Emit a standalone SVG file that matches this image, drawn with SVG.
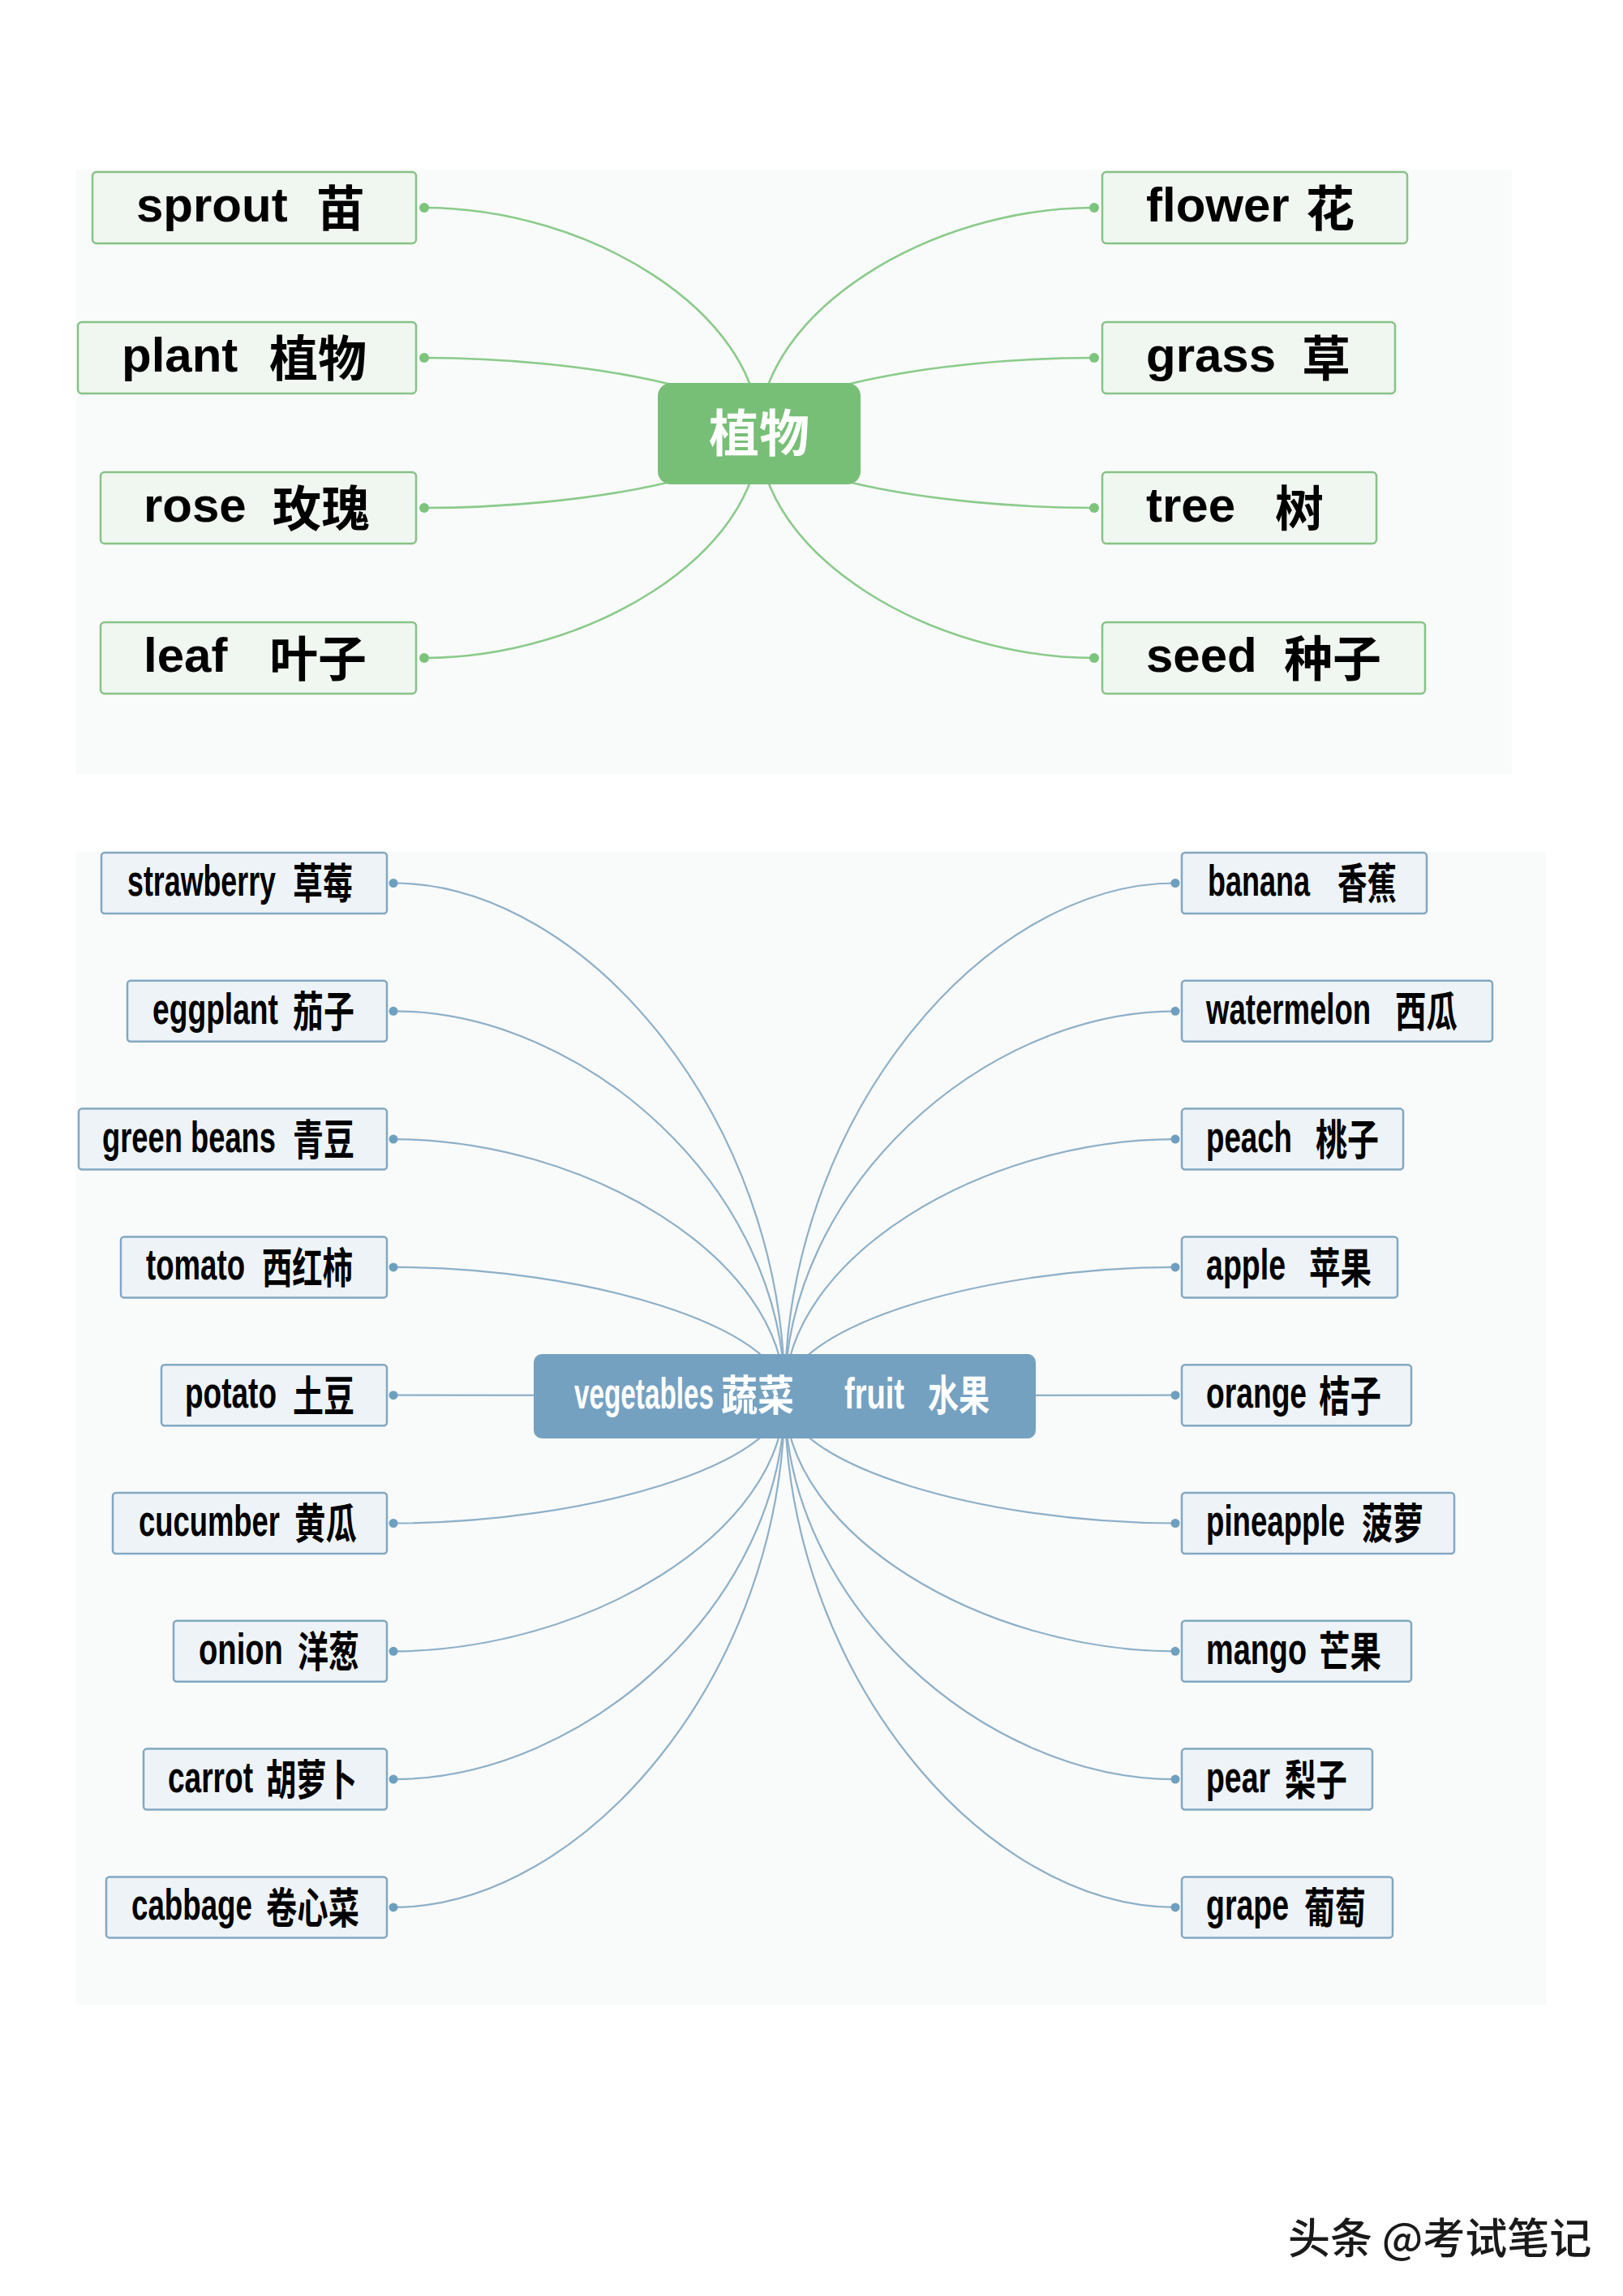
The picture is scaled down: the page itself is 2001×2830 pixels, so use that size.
<svg xmlns="http://www.w3.org/2000/svg" width="2001" height="2830" viewBox="0 0 2001 2830">
<style>
.panel{fill:#f9fafa}
.gbox{fill:#f0f6f0;stroke:#86c386;stroke-width:2.5}
.bbox{fill:#eef3f7;stroke:#82a8c2;stroke-width:2.5}
.gline{fill:none;stroke:#8acb8a;stroke-width:2.6}
.bline{fill:none;stroke:#8db0c8;stroke-width:2.2}
.gdot{fill:#7cc47c}
.bdot{fill:#6f9fbf}
.en{font-family:"Liberation Sans",Arial,sans-serif;font-weight:bold;fill:#000}
.cjk{font-family:"Noto Sans CJK SC","Liberation Sans",sans-serif;font-weight:bold}
.t1{font-size:60px}
.t2{font-size:54px}
.t2 .cjk{font-size:52px}
.white{fill:#fff}
</style>
<rect x="0" y="0" width="2001" height="2830" fill="#ffffff"/>
<rect class="panel" x="94" y="209" width="1770" height="745"/>
<rect class="panel" x="94" y="1050" width="1812" height="1421"/>

<g id="connectors">
<path class="gline" d="M523 256 C725 256 936 384.1 936 534.5"/>
<path class="gline" d="M523 441 C725 441 936 484 936 534.5"/>
<path class="gline" d="M523 626 C725 626 936 583.9 936 534.5"/>
<path class="gline" d="M523 811 C725 811 936 683.8 936 534.5"/>
<path class="gline" d="M1349 256 C1147 256 936 384.1 936 534.5"/>
<path class="gline" d="M1349 441 C1147 441 936 484 936 534.5"/>
<path class="gline" d="M1349 626 C1147 626 936 583.9 936 534.5"/>
<path class="gline" d="M1349 811 C1147 811 936 683.8 936 534.5"/>
<circle class="gdot" cx="523" cy="256" r="6"/>
<circle class="gdot" cx="523" cy="441" r="6"/>
<circle class="gdot" cx="523" cy="626" r="6"/>
<circle class="gdot" cx="523" cy="811" r="6"/>
<circle class="gdot" cx="1349" cy="256" r="6"/>
<circle class="gdot" cx="1349" cy="441" r="6"/>
<circle class="gdot" cx="1349" cy="626" r="6"/>
<circle class="gdot" cx="1349" cy="811" r="6"/>

<path class="bline" d="M485 1088.5 C721 1088.5 967.5 1379.5 967.5 1721"/>
<path class="bline" d="M485 1246.3 C721 1246.3 967.5 1464.7 967.5 1721"/>
<path class="bline" d="M485 1404.1 C721 1404.1 967.5 1549.9 967.5 1721"/>
<path class="bline" d="M485 1561.9 C721 1561.9 967.5 1635.1 967.5 1721"/>
<path class="bline" d="M485 1719.7 L967.5 1720"/>
<path class="bline" d="M485 1877.5 C721 1877.5 967.5 1805.5 967.5 1721"/>
<path class="bline" d="M485 2035.3 C721 2035.3 967.5 1890.7 967.5 1721"/>
<path class="bline" d="M485 2193.1 C721 2193.1 967.5 1975.9 967.5 1721"/>
<path class="bline" d="M485 2350.9 C721 2350.9 967.5 2061.1 967.5 1721"/>
<path class="bline" d="M1449 1088.5 C1213 1088.5 967.5 1379.5 967.5 1721"/>
<path class="bline" d="M1449 1246.3 C1213 1246.3 967.5 1464.7 967.5 1721"/>
<path class="bline" d="M1449 1404.1 C1213 1404.1 967.5 1549.9 967.5 1721"/>
<path class="bline" d="M1449 1561.9 C1213 1561.9 967.5 1635.1 967.5 1721"/>
<path class="bline" d="M1449 1719.7 L967.5 1720"/>
<path class="bline" d="M1449 1877.5 C1213 1877.5 967.5 1805.5 967.5 1721"/>
<path class="bline" d="M1449 2035.3 C1213 2035.3 967.5 1890.7 967.5 1721"/>
<path class="bline" d="M1449 2193.1 C1213 2193.1 967.5 1975.9 967.5 1721"/>
<path class="bline" d="M1449 2350.9 C1213 2350.9 967.5 2061.1 967.5 1721"/>
<circle class="bdot" cx="485" cy="1088.5" r="5.5"/>
<circle class="bdot" cx="485" cy="1246.3" r="5.5"/>
<circle class="bdot" cx="485" cy="1404.1" r="5.5"/>
<circle class="bdot" cx="485" cy="1561.9" r="5.5"/>
<circle class="bdot" cx="485" cy="1719.7" r="5.5"/>
<circle class="bdot" cx="485" cy="1877.5" r="5.5"/>
<circle class="bdot" cx="485" cy="2035.3" r="5.5"/>
<circle class="bdot" cx="485" cy="2193.1" r="5.5"/>
<circle class="bdot" cx="485" cy="2350.9" r="5.5"/>
<circle class="bdot" cx="1449" cy="1088.5" r="5.5"/>
<circle class="bdot" cx="1449" cy="1246.3" r="5.5"/>
<circle class="bdot" cx="1449" cy="1404.1" r="5.5"/>
<circle class="bdot" cx="1449" cy="1561.9" r="5.5"/>
<circle class="bdot" cx="1449" cy="1719.7" r="5.5"/>
<circle class="bdot" cx="1449" cy="1877.5" r="5.5"/>
<circle class="bdot" cx="1449" cy="2035.3" r="5.5"/>
<circle class="bdot" cx="1449" cy="2193.1" r="5.5"/>
<circle class="bdot" cx="1449" cy="2350.9" r="5.5"/>
</g>

<!-- top mind map -->
<g id="node-plants-center">
<rect x="811" y="472" width="250" height="125" rx="16" fill="#77bf77"/>
<text class="cjk white" x="936" y="557" font-size="62" text-anchor="middle">植物</text>
</g>
<g id="node-sprout">
<rect class="gbox" x="114" y="212" width="399" height="88" rx="5"/>
<text class="en t1"><tspan x="168" y="273">sprout</tspan> <tspan class="cjk" x="390" y="279">苗</tspan></text>
</g>
<g id="node-plant">
<rect class="gbox" x="96" y="397" width="417" height="88" rx="5"/>
<text class="en t1"><tspan x="150" y="458">plant</tspan> <tspan class="cjk" x="332" y="464">植物</tspan></text>
</g>
<g id="node-rose">
<rect class="gbox" x="124" y="582" width="389" height="88" rx="5"/>
<text class="en t1"><tspan x="177" y="643">rose</tspan> <tspan class="cjk" x="336" y="649">玫瑰</tspan></text>
</g>
<g id="node-leaf">
<rect class="gbox" x="124" y="767" width="389" height="88" rx="5"/>
<text class="en t1"><tspan x="177" y="828">leaf</tspan> <tspan class="cjk" x="332" y="834">叶子</tspan></text>
</g>
<g id="node-flower">
<rect class="gbox" x="1359" y="212" width="376" height="88" rx="5"/>
<text class="en t1"><tspan x="1413" y="273">flower</tspan> <tspan class="cjk" x="1610" y="279">花</tspan></text>
</g>
<g id="node-grass">
<rect class="gbox" x="1359" y="397" width="361" height="88" rx="5"/>
<text class="en t1"><tspan x="1413" y="458">grass</tspan> <tspan class="cjk" x="1605" y="464">草</tspan></text>
</g>
<g id="node-tree">
<rect class="gbox" x="1359" y="582" width="338" height="88" rx="5"/>
<text class="en t1"><tspan x="1413" y="643">tree</tspan> <tspan class="cjk" x="1572" y="649">树</tspan></text>
</g>
<g id="node-seed">
<rect class="gbox" x="1359" y="767" width="398" height="88" rx="5"/>
<text class="en t1"><tspan x="1413" y="828">seed</tspan> <tspan class="cjk" x="1583" y="834">种子</tspan></text>
</g>

<!-- bottom mind map -->
<g id="node-veg-fruit-center">
<rect x="658" y="1669" width="619" height="104" rx="10" fill="#75a1c1"/>
<text class="en t2 white" transform="scale(0.62 1)"><tspan x="1141.9" y="1736" textLength="277.4" lengthAdjust="spacingAndGlyphs">vegetables</tspan> <tspan class="cjk" x="1433.9" y="1739" font-size="50" textLength="145.2" lengthAdjust="spacingAndGlyphs">蔬菜</tspan> <tspan x="1679" y="1736" textLength="119.4" lengthAdjust="spacingAndGlyphs">fruit</tspan> <tspan class="cjk" x="1845.2" y="1739" font-size="50" textLength="122.6" lengthAdjust="spacingAndGlyphs">水果</tspan></text>
</g>

<g id="node-strawberry">
<rect class="bbox" x="125" y="1051" width="352" height="75" rx="4"/>
<text class="en t2" transform="scale(0.68 1)"><tspan x="230.9" y="1104" textLength="269.1" lengthAdjust="spacingAndGlyphs">strawberry</tspan> <tspan class="cjk" x="530.9" y="1108.5" textLength="108.8" lengthAdjust="spacingAndGlyphs">草莓</tspan></text>
</g>
<g id="node-eggplant">
<rect class="bbox" x="157" y="1208.8" width="320" height="75" rx="4"/>
<text class="en t2" transform="scale(0.68 1)"><tspan x="276.5" y="1261.8" textLength="227.9" lengthAdjust="spacingAndGlyphs">eggplant</tspan> <tspan class="cjk" x="530.9" y="1266.3" textLength="111.8" lengthAdjust="spacingAndGlyphs">茄子</tspan></text>
</g>
<g id="node-green-beans">
<rect class="bbox" x="97" y="1366.6" width="380" height="75" rx="4"/>
<text class="en t2" transform="scale(0.68 1)"><tspan x="185.3" y="1419.6" textLength="314.7" lengthAdjust="spacingAndGlyphs">green beans</tspan> <tspan class="cjk" x="530.9" y="1424.1" textLength="111.8" lengthAdjust="spacingAndGlyphs">青豆</tspan></text>
</g>
<g id="node-tomato">
<rect class="bbox" x="149" y="1524.4" width="328" height="75" rx="4"/>
<text class="en t2" transform="scale(0.68 1)"><tspan x="264.7" y="1577.4" textLength="179.4" lengthAdjust="spacingAndGlyphs">tomato</tspan> <tspan class="cjk" x="475" y="1581.9" textLength="164.7" lengthAdjust="spacingAndGlyphs">西红柿</tspan></text>
</g>
<g id="node-potato">
<rect class="bbox" x="199" y="1682.2" width="278" height="75" rx="4"/>
<text class="en t2" transform="scale(0.68 1)"><tspan x="335.3" y="1735.2" textLength="166.2" lengthAdjust="spacingAndGlyphs">potato</tspan> <tspan class="cjk" x="530.9" y="1739.7" textLength="111.8" lengthAdjust="spacingAndGlyphs">土豆</tspan></text>
</g>
<g id="node-cucumber">
<rect class="bbox" x="139" y="1840" width="338" height="75" rx="4"/>
<text class="en t2" transform="scale(0.68 1)"><tspan x="251.5" y="1893" textLength="255.9" lengthAdjust="spacingAndGlyphs">cucumber</tspan> <tspan class="cjk" x="533.8" y="1897.5" textLength="113.2" lengthAdjust="spacingAndGlyphs">黄瓜</tspan></text>
</g>
<g id="node-onion">
<rect class="bbox" x="214" y="1997.8" width="263" height="75" rx="4"/>
<text class="en t2" transform="scale(0.68 1)"><tspan x="360.3" y="2050.8" textLength="152.9" lengthAdjust="spacingAndGlyphs">onion</tspan> <tspan class="cjk" x="539.7" y="2055.3" textLength="111.8" lengthAdjust="spacingAndGlyphs">洋葱</tspan></text>
</g>
<g id="node-carrot">
<rect class="bbox" x="177" y="2155.6" width="300" height="75" rx="4"/>
<text class="en t2" transform="scale(0.68 1)"><tspan x="304.4" y="2208.6" textLength="154.4" lengthAdjust="spacingAndGlyphs">carrot</tspan> <tspan class="cjk" x="482.4" y="2213.1" textLength="164.7" lengthAdjust="spacingAndGlyphs">胡萝卜</tspan></text>
</g>
<g id="node-cabbage">
<rect class="bbox" x="131" y="2313.4" width="346" height="75" rx="4"/>
<text class="en t2" transform="scale(0.68 1)"><tspan x="238.2" y="2366.4" textLength="219.1" lengthAdjust="spacingAndGlyphs">cabbage</tspan> <tspan class="cjk" x="482.4" y="2370.9" textLength="169.1" lengthAdjust="spacingAndGlyphs">卷心菜</tspan></text>
</g>

<g id="node-banana">
<rect class="bbox" x="1457" y="1051" width="302" height="75" rx="4"/>
<text class="en t2" transform="scale(0.68 1)"><tspan x="2189.7" y="1104" textLength="185.3" lengthAdjust="spacingAndGlyphs">banana</tspan> <tspan class="cjk" x="2425" y="1108.5" textLength="107.4" lengthAdjust="spacingAndGlyphs">香蕉</tspan></text>
</g>
<g id="node-watermelon">
<rect class="bbox" x="1457" y="1208.8" width="383" height="75" rx="4"/>
<text class="en t2" transform="scale(0.68 1)"><tspan x="2186.8" y="1261.8" textLength="298.5" lengthAdjust="spacingAndGlyphs">watermelon</tspan> <tspan class="cjk" x="2529.4" y="1266.3" textLength="113.2" lengthAdjust="spacingAndGlyphs">西瓜</tspan></text>
</g>
<g id="node-peach">
<rect class="bbox" x="1457" y="1366.6" width="273" height="75" rx="4"/>
<text class="en t2" transform="scale(0.68 1)"><tspan x="2186.8" y="1419.6" textLength="155.9" lengthAdjust="spacingAndGlyphs">peach</tspan> <tspan class="cjk" x="2385.3" y="1424.1" textLength="114.7" lengthAdjust="spacingAndGlyphs">桃子</tspan></text>
</g>
<g id="node-apple">
<rect class="bbox" x="1457" y="1524.4" width="266" height="75" rx="4"/>
<text class="en t2" transform="scale(0.68 1)"><tspan x="2186.8" y="1577.4" textLength="144.1" lengthAdjust="spacingAndGlyphs">apple</tspan> <tspan class="cjk" x="2373.5" y="1581.9" textLength="113.2" lengthAdjust="spacingAndGlyphs">苹果</tspan></text>
</g>
<g id="node-orange">
<rect class="bbox" x="1457" y="1682.2" width="283" height="75" rx="4"/>
<text class="en t2" transform="scale(0.68 1)"><tspan x="2186.8" y="1735.2" textLength="182.4" lengthAdjust="spacingAndGlyphs">orange</tspan> <tspan class="cjk" x="2391.2" y="1739.7" textLength="113.2" lengthAdjust="spacingAndGlyphs">桔子</tspan></text>
</g>
<g id="node-pineapple">
<rect class="bbox" x="1457" y="1840" width="336" height="75" rx="4"/>
<text class="en t2" transform="scale(0.68 1)"><tspan x="2186.8" y="1893" textLength="251.5" lengthAdjust="spacingAndGlyphs">pineapple</tspan> <tspan class="cjk" x="2469.1" y="1897.5" textLength="111.8" lengthAdjust="spacingAndGlyphs">菠萝</tspan></text>
</g>
<g id="node-mango">
<rect class="bbox" x="1457" y="1997.8" width="283" height="75" rx="4"/>
<text class="en t2" transform="scale(0.68 1)"><tspan x="2186.8" y="2050.8" textLength="182.4" lengthAdjust="spacingAndGlyphs">mango</tspan> <tspan class="cjk" x="2391.2" y="2055.3" textLength="113.2" lengthAdjust="spacingAndGlyphs">芒果</tspan></text>
</g>
<g id="node-pear">
<rect class="bbox" x="1457" y="2155.6" width="235" height="75" rx="4"/>
<text class="en t2" transform="scale(0.68 1)"><tspan x="2186.8" y="2208.6" textLength="116.2" lengthAdjust="spacingAndGlyphs">pear</tspan> <tspan class="cjk" x="2329.4" y="2213.1" textLength="113.2" lengthAdjust="spacingAndGlyphs">梨子</tspan></text>
</g>
<g id="node-grape">
<rect class="bbox" x="1457" y="2313.4" width="260" height="75" rx="4"/>
<text class="en t2" transform="scale(0.68 1)"><tspan x="2186.8" y="2366.4" textLength="150" lengthAdjust="spacingAndGlyphs">grape</tspan> <tspan class="cjk" x="2364.7" y="2370.9" textLength="111.8" lengthAdjust="spacingAndGlyphs">葡萄</tspan></text>
</g>

<text x="1588" y="2778" font-family="'Noto Sans CJK SC',sans-serif" font-size="52" font-weight="500" fill="#1a1a1a">头条 @考试笔记</text>
</svg>
